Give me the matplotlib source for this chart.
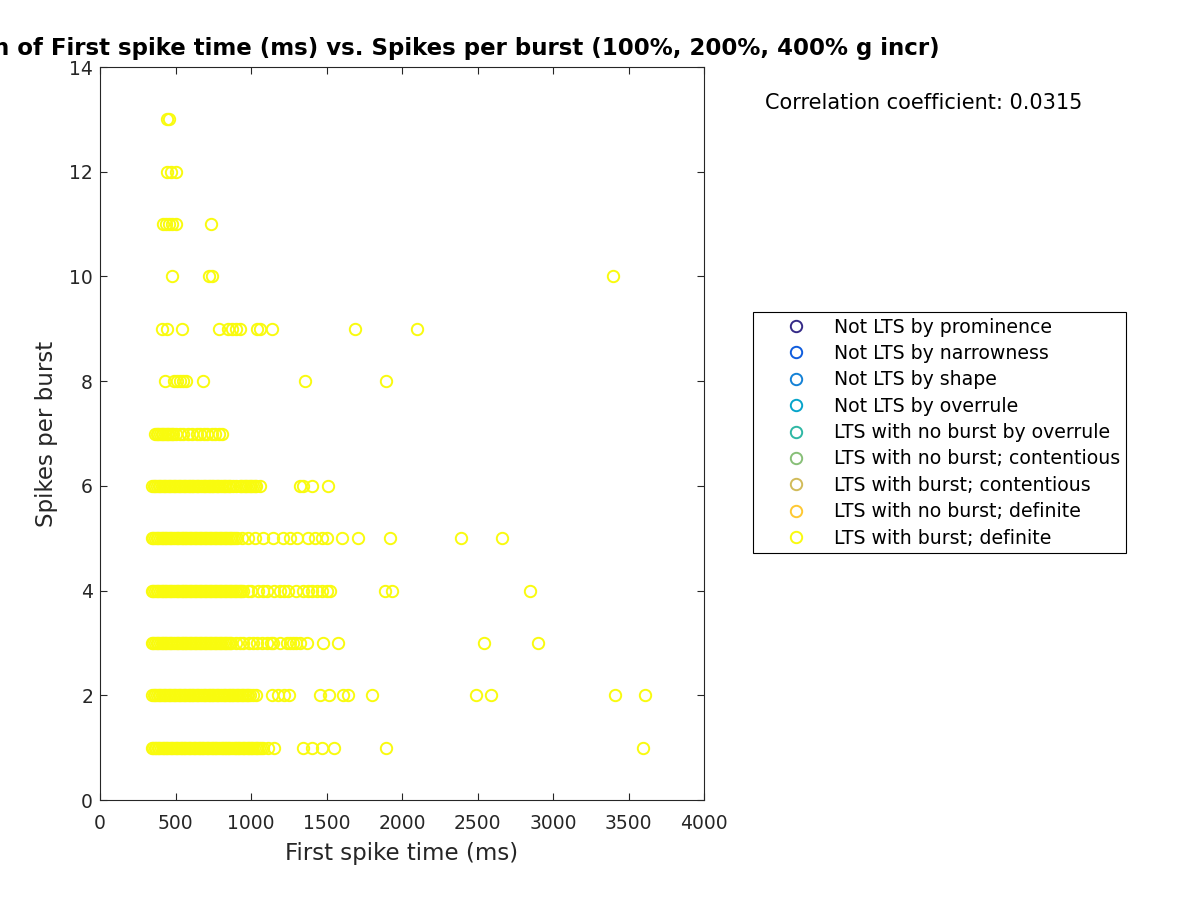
import matplotlib
matplotlib.use("Agg")
import matplotlib.pyplot as plt

plt.rcParams['font.family'] = ['DejaVu Sans']

# ---------------- data ----------------
spb_1 = [342, 351, 362, 371, 383, 394, 403, 415, 426, 437, 446, 458, 469, 480, 490, 502,
         513, 522, 534, 546, 555, 566, 578, 589, 598, 610, 621, 632, 641, 653, 664, 675,
         684, 696, 707, 718, 727, 739, 750, 761, 771, 782, 794, 805, 814, 826, 837, 848,
         857, 869, 880, 891, 900, 912, 923, 934, 944, 955, 966, 977, 986, 998, 1009, 1020,
         1031, 1042, 1053, 1066, 1080, 1110, 1150,
         1342, 1402, 1468, 1549, 1894, 3595]
spb_2 = [345, 356, 367, 378, 388, 399, 411, 422, 432, 443, 455, 466, 476, 487, 499, 510,
         520, 531, 543, 554, 564, 575, 587, 598, 608, 619, 631, 642, 652, 663, 675, 686,
         696, 707, 719, 730, 740, 751, 763, 774, 784, 795, 807, 818, 828, 839, 851, 862,
         872, 883, 895, 906, 916, 927, 939, 950, 960, 971, 983, 996, 1010, 1030,
         1137, 1181, 1219, 1254, 1457, 1519, 1607, 1644, 1799, 2490, 2590, 3410, 3610]
spb_3 = [342, 353, 364, 375, 385, 396, 408, 419, 429, 440, 452, 463, 473, 484, 496, 507,
         517, 528, 540, 551, 561, 572, 584, 595, 605, 616, 628, 639, 649, 660, 672, 683,
         693, 704, 716, 727, 737, 748, 760, 771, 781, 792, 804, 815, 825, 836, 848, 859, 870,
         900, 925, 950, 985, 1010, 1040, 1075, 1104, 1130, 1148, 1190, 1237, 1255, 1280,
         1300, 1325, 1369, 1475, 1578, 2540, 2900]
spb_4 = [342, 353, 364, 375, 385, 396, 408, 419, 429, 440, 452, 463, 473, 484, 496, 507,
         517, 528, 540, 551, 561, 572, 584, 595, 605, 616, 628, 639, 649, 660, 672, 683,
         693, 704, 716, 727, 737, 748, 760, 771, 781, 792, 804, 815, 825, 836, 848, 859,
         869, 880, 892, 903, 913, 924, 936, 950,
         980, 1000, 1049, 1080, 1104, 1150, 1192, 1220, 1247, 1300, 1347, 1380, 1402,
         1440, 1468, 1500, 1523, 1888, 1932, 2850]
spb_5 = [342, 353, 364, 375, 385, 396, 408, 419, 429, 440, 452, 463, 473, 484, 496, 507,
         517, 528, 540, 551, 561, 572, 584, 595, 605, 616, 628, 639, 649, 660, 672, 683,
         693, 704, 716, 727, 737, 748, 760, 771, 781, 792, 804, 815, 825, 836, 848, 859,
         869, 880, 892, 905, 940, 980,
         1027, 1082, 1148, 1214, 1258, 1303, 1380, 1424, 1468, 1501, 1601, 1711, 1921,
         2390, 2660]
spb_6 = [345, 356, 367, 378, 388, 399, 411, 422, 432, 443, 455, 466, 476, 487, 499, 510,
         520, 531, 543, 554, 564, 575, 587, 598, 608, 619, 631, 642, 652, 663, 675, 686,
         696, 707, 719, 730, 740, 751, 763, 774, 784, 795, 807, 818, 828, 839, 851, 862,
         880, 900, 925, 936, 947, 958, 969, 980, 991, 1002, 1013, 1024, 1035, 1060,
         1325, 1342, 1402, 1508]
spb_7 = [364, 375, 386, 397, 408, 419, 430, 441, 452, 463, 474, 486, 500, 530, 552, 580,
         607, 640, 662, 690, 707, 740, 762, 790, 806]
spb_8 = [430, 490, 510, 530, 550, 570, 680, 1358, 1894]
spb_9 = [408, 441, 541, 790, 850, 875, 900, 927, 1038, 1060, 1137, 1689, 2101]
spb_10 = [475, 725, 740, 3400]
spb_11 = [420, 440, 460, 480, 500, 735]
spb_12 = [445, 470, 500]
spb_13 = [445, 460]

burst_rows = [spb_1, spb_2, spb_3, spb_4, spb_5, spb_6, spb_7, spb_8, spb_9,
              spb_10, spb_11, spb_12, spb_13]
burst_counts = list(range(1, 14))

categories = ["Not LTS by prominence", "Not LTS by narrowness", "Not LTS by shape",
              "Not LTS by overrule", "LTS with no burst by overrule",
              "LTS with no burst; contentious", "LTS with burst; contentious",
              "LTS with no burst; definite", "LTS with burst; definite"]
cat_colors = ["#352a87", "#0f5cdd", "#1481d6", "#06a4ca", "#2eb7a4",
              "#87bf77", "#d1bb59", "#fec832", "#f9fb0e"]

corr_text = "Correlation coefficient: 0.0315"
title_text = ("Correlation of First spike time (ms) vs. Spikes per burst "
              "(100%, 200%, 400% g incr)")
x_ticks = [0, 500, 1000, 1500, 2000, 2500, 3000, 3500, 4000]
y_ticks = [0, 2, 4, 6, 8, 10, 12, 14]

# ---------------- build flat series ----------------
xs, ys = [], []
for cnt, row in zip(burst_counts, burst_rows):
    xs.extend(row)
    ys.extend([cnt] * len(row))

fig = plt.figure(figsize=(12, 9), dpi=100)
ax = fig.add_axes([100 / 1200, 100 / 900, 604 / 1200, 733 / 900])

ms = 8.2
lw = 1.4
handles = []
for name, col in zip(categories, cat_colors):
    if name == "LTS with burst; definite":
        h, = ax.plot(xs, ys, linestyle='none', marker='o', markersize=ms,
                     markerfacecolor='none', markeredgecolor=col,
                     markeredgewidth=lw, label=name)
    else:
        h, = ax.plot([], [], linestyle='none', marker='o', markersize=ms,
                     markerfacecolor='none', markeredgecolor=col,
                     markeredgewidth=lw, label=name)
    handles.append(h)

ax.set_xlim(0, 4000)
ax.set_ylim(0, 14)
ax.set_xticks(x_ticks)
ax.set_yticks(y_ticks)
ax.tick_params(direction='in', length=5, width=0.8, top=True, right=True,
               labelsize=13.5, colors='#262626', pad=5)
ax.tick_params(axis='x', pad=10)
for sp in ax.spines.values():
    sp.set_linewidth(0.8)
    sp.set_color('#262626')

ax.set_xlabel("First spike time (ms)", fontsize=16.5, color='#262626', labelpad=6.5)
ax.set_ylabel("Spikes per burst", fontsize=16.5, color='#262626', labelpad=8)
ax.set_title(title_text, fontsize=16.5, fontweight='bold', pad=9)

fig.text(765 / 1200, 1 - 103 / 900, corr_text, fontsize=15, va='center', ha='left')

leg = fig.legend(handles=handles, loc='upper left',
                 bbox_to_anchor=(753 / 1200, 1 - 312 / 900),
                 fontsize=13.6, frameon=True, fancybox=False, edgecolor='black',
                 framealpha=1, borderpad=0.3, handlelength=3.95,
                 handletextpad=0.05, labelspacing=0.39, borderaxespad=0)
leg.get_frame().set_linewidth(0.8)

fig.savefig("out.png", dpi=100)
